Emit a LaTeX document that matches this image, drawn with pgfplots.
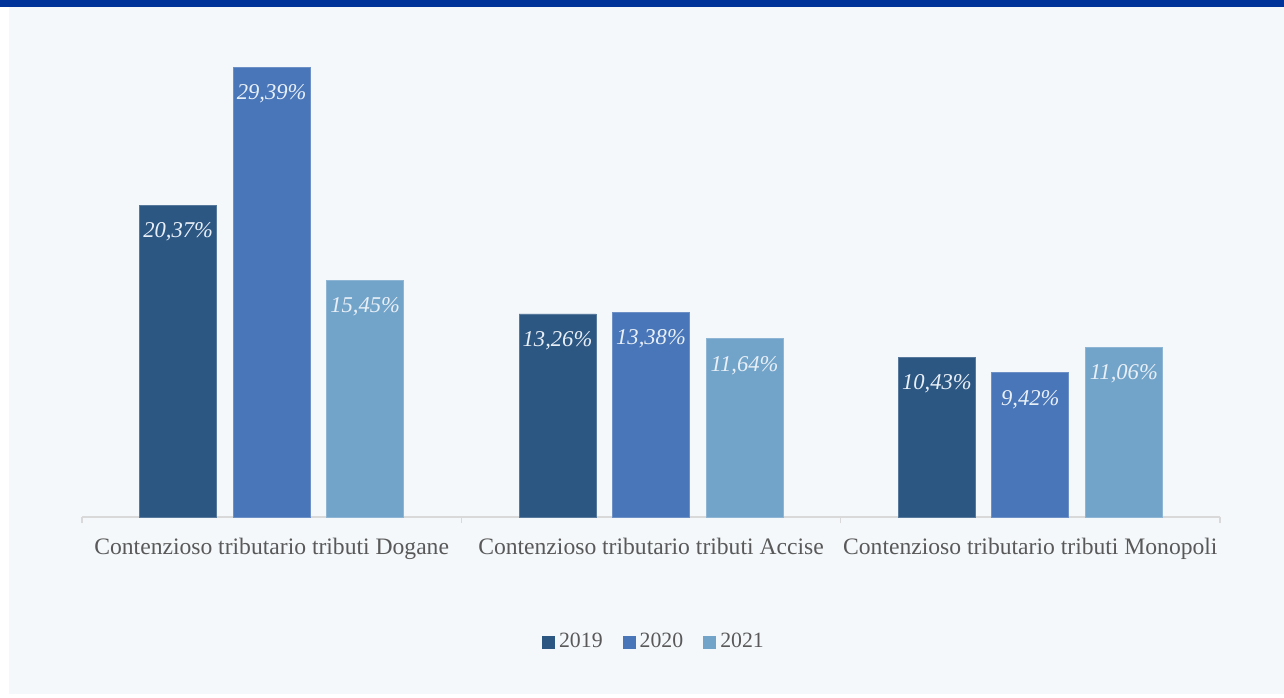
\documentclass[border=0pt]{standalone}
\usepackage{fontspec}
\setmainfont{Liberation Serif}
\usepackage{pgfplots}
\pgfplotsset{compat=1.18}
\definecolor{cA}{RGB}{44,87,131}
\definecolor{cB}{RGB}{72,118,184}
\definecolor{cC}{RGB}{114,164,201}
\definecolor{bgc}{RGB}{244,248,251}
\definecolor{topblue}{RGB}{0,51,154}
\definecolor{txtgray}{RGB}{89,89,89}
\definecolor{axgray}{RGB}{217,217,217}
\definecolor{lblc}{RGB}{232,239,247}
\begin{document}
\begin{tikzpicture}
\fill[white] (0pt,0pt) rectangle (642pt,348.5pt);
\fill[bgc] (4.5pt,1.5pt) rectangle (642pt,345pt);
\fill[topblue] (0pt,345pt) rectangle (642pt,348.5pt);
\begin{axis}[
  at={(41pt,90pt)}, anchor=south west,
  scale only axis, width=569pt, height=229.65pt,
  xmin=-0.5, xmax=2.5, ymin=0, ymax=30,
  ybar=8.25pt, bar width=38.5pt,
  axis x line*=bottom, hide y axis,
  axis line style={axgray, line width=0.6pt, -},
  xtick={0,1,2}, major tick length=0pt,
  minor xtick={-0.5,0.5,1.5,2.5}, minor tick length=3pt, tick align=outside,
  minor tick style={axgray, line width=0.6pt},
  xticklabels={Contenzioso tributario tributi Dogane, Contenzioso tributario tributi Accise, Contenzioso tributario tributi Monopoli},
  xticklabel style={font=\fontsize{11.8}{14}\selectfont, text=txtgray, yshift=-7pt},
  point meta=explicit symbolic,
  nodes near coords,
  every node near coord/.append style={anchor=center, yshift=-13.25pt, font=\fontsize{11.3}{13}\selectfont\itshape, text=lblc},
  legend columns=3,
  legend style={at={(0.5035,-0.2722)}, anchor=center, draw=none, fill=none, font=\fontsize{10.9}{13}\selectfont, text=txtgray, /tikz/every even column/.append style={column sep=8pt}},
  legend image code/.code={\fill[#1, draw=none] (0pt,-3.25pt) rectangle (6.5pt,3.25pt);},
]
\addplot[fill=cA, draw=cA!80!white, line width=0.4pt] coordinates {(0,20.37) [20,37\%] (1,13.26) [13,26\%] (2,10.43) [10,43\%]};
\addplot[fill=cB, draw=cB!80!white, line width=0.4pt] coordinates {(0,29.39) [29,39\%] (1,13.38) [13,38\%] (2,9.42) [9,42\%]};
\addplot[fill=cC, draw=cC!80!white, line width=0.4pt] coordinates {(0,15.45) [15,45\%] (1,11.64) [11,64\%] (2,11.06) [11,06\%]};
\legend{2019,2020,2021}
\end{axis}
\end{tikzpicture}
\end{document}
